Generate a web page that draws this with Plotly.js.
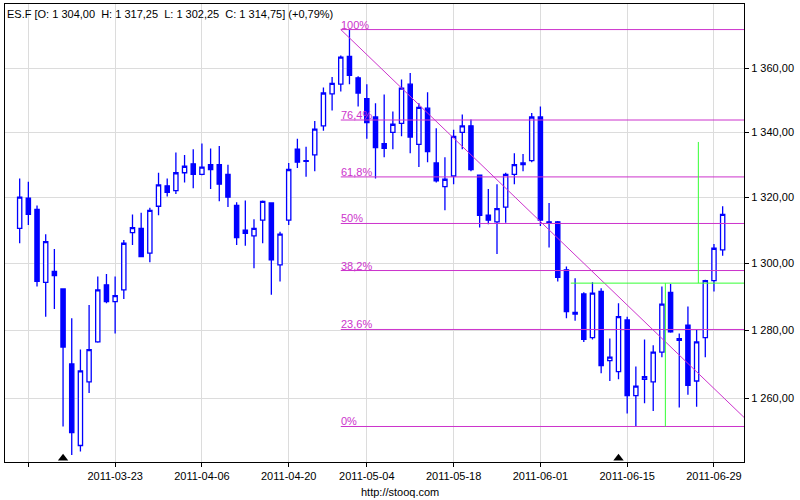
<!DOCTYPE html>
<html>
<head>
<meta charset="utf-8">
<script src="https://cdn.plot.ly/plotly-3.0.1.min.js"></script>
<style>html,body{margin:0;padding:0;background:#fff;}#chart{width:800px;height:500px;}</style>
</head>
<body>
<div id="chart"></div>
<script>
// ---- data ----
const dates = [
 '2011-03-08','2011-03-09','2011-03-10','2011-03-11','2011-03-14','2011-03-15','2011-03-16','2011-03-17','2011-03-18',
 '2011-03-21','2011-03-22','2011-03-23','2011-03-24','2011-03-25','2011-03-28','2011-03-29','2011-03-30','2011-03-31',
 '2011-04-01','2011-04-04','2011-04-05','2011-04-06','2011-04-07','2011-04-08','2011-04-11','2011-04-12','2011-04-13',
 '2011-04-14','2011-04-15','2011-04-18','2011-04-19','2011-04-20','2011-04-21','2011-04-25','2011-04-26','2011-04-27',
 '2011-04-28','2011-04-29','2011-05-02','2011-05-03','2011-05-04','2011-05-05','2011-05-06','2011-05-09','2011-05-10',
 '2011-05-11','2011-05-12','2011-05-13','2011-05-16','2011-05-17','2011-05-18','2011-05-19','2011-05-20','2011-05-23',
 '2011-05-24','2011-05-25','2011-05-26','2011-05-27','2011-05-30','2011-05-31','2011-06-01','2011-06-02','2011-06-03',
 '2011-06-06','2011-06-07','2011-06-08','2011-06-09','2011-06-10','2011-06-13','2011-06-14','2011-06-15','2011-06-16',
 '2011-06-17','2011-06-20','2011-06-21','2011-06-22','2011-06-23','2011-06-24','2011-06-27','2011-06-28','2011-06-29',
 '2011-06-30'];
const open = [1310.5,1319.75,1316.25,1294.25,1297.5,1292.25,1270.0,1246.25,1264.75,
 1276.5,1293.5,1288.5,1292.0,1309.25,1310.5,1303.0,1317.25,1323.5,
 1322.0,1327.5,1330.25,1327.0,1330.0,1330.0,1327.0,1317.5,1310.0,
 1308.25,1313.0,1318.25,1299.5,1313.0,1334.75,1331.0,1333.0,1342.0,
 1352.0,1355.0,1363.75,1357.0,1350.5,1344.75,1336.5,1340.0,1342.75,
 1355.0,1336.25,1347.5,1330.5,1323.25,1326.5,1340.0,1342.0,1326.75,
 1314.5,1312.5,1317.0,1327.0,1330.0,1331.25,1344.75,1312.5,1312.5,
 1298.0,1285.25,1290.75,1277.75,1291.5,1271.0,1267.75,1283.0,1260.75,
 1265.5,1264.75,1273.5,1291.25,1277.5,1281.5,1265.0,1277.75,1294.75,
 1304.0];
const high = [1325.75,1324.75,1317.5,1308.75,1304.25,1292.5,1283.5,1274.25,1287.5,
 1296.0,1296.75,1296.0,1307.0,1314.75,1315.25,1316.75,1327.5,1325.75,
 1333.75,1333.0,1334.75,1336.5,1335.0,1335.75,1330.0,1318.5,1319.0,
 1313.25,1319.0,1318.5,1309.5,1330.5,1338.0,1335.5,1343.5,1354.0,
 1357.25,1364.0,1372.25,1357.5,1355.0,1349.0,1351.75,1346.5,1356.5,
 1358.5,1349.0,1352.5,1341.25,1332.25,1340.75,1345.5,1344.0,1327.0,
 1322.5,1324.0,1327.5,1333.5,1333.25,1346.0,1348.0,1318.25,1312.75,
 1299.0,1295.5,1291.25,1294.25,1292.5,1277.5,1288.0,1284.0,1269.25,
 1277.25,1275.5,1293.0,1293.75,1279.0,1287.0,1280.0,1295.0,1305.75,
 1317.25];
const low = [1306.0,1311.5,1293.0,1284.0,1286.25,1251.75,1243.5,1244.5,1261.5,
 1276.25,1288.0,1279.0,1289.25,1305.5,1301.75,1300.25,1314.5,1320.25,
 1321.0,1324.5,1322.75,1326.75,1322.5,1318.75,1317.0,1305.5,1305.25,
 1298.5,1306.0,1290.5,1294.5,1311.5,1329.0,1326.25,1328.0,1340.5,
 1346.75,1352.75,1355.0,1348.0,1338.0,1325.75,1332.25,1334.75,1338.75,
 1333.5,1329.25,1330.75,1324.5,1316.0,1324.0,1334.75,1328.0,1310.75,
 1311.75,1302.75,1312.25,1324.0,1328.0,1330.75,1311.25,1304.75,1294.5,
 1283.5,1282.75,1276.5,1277.25,1267.25,1265.0,1265.5,1255.5,1251.75,
 1258.5,1256.25,1272.0,1279.25,1257.25,1261.0,1257.5,1272.0,1291.5,
 1302.25];
const close = [1320.0,1314.75,1294.5,1306.5,1296.25,1275.0,1250.0,1268.0,1274.25,
 1292.0,1288.5,1290.25,1306.0,1310.75,1302.0,1316.0,1323.75,1321.5,
 1327.5,1329.5,1327.0,1329.25,1328.5,1324.0,1320.0,1307.75,1309.0,
 1310.5,1318.75,1301.0,1308.75,1328.5,1330.75,1331.25,1341.0,1352.25,
 1355.25,1363.5,1357.75,1352.25,1343.0,1335.25,1335.0,1342.5,1353.75,
 1338.5,1347.75,1334.0,1325.0,1325.5,1338.75,1342.0,1328.5,1314.5,
 1313.0,1316.5,1327.0,1330.0,1330.5,1344.75,1313.0,1312.25,1295.75,
 1285.5,1284.75,1277.25,1291.0,1269.5,1272.0,1284.0,1260.75,1263.5,
 1266.25,1273.5,1287.75,1279.5,1277.0,1263.75,1276.5,1294.75,1304.5,
 1314.75];

const xTickDates = ['2011-03-09','2011-03-23','2011-04-06','2011-04-20','2011-05-04','2011-05-18','2011-06-01','2011-06-15','2011-06-29'];
const xTickText  = ['','2011-03-23','2011-04-06','2011-04-20','2011-05-04','2011-05-18','2011-06-01','2011-06-15','2011-06-29'];
const yTickVals  = [1260,1280,1300,1320,1340,1360];
const yTickText  = ['1 260,00','1 280,00','1 300,00','1 320,00','1 340,00','1 360,00'];

// Fibonacci retracement tool
const fibHigh = 1372.25;
const fibLow = 1251.75;
const fibStartDate = '2011-04-29';
const fibRatios = [1, 0.764, 0.618, 0.5, 0.382, 0.236, 0];
const fibLabels = ['100%','76,4%','61,8%','50%','38,2%','23,6%','0%'];
const trendEndPrice = 1254.4;

// green measuring tool (bar-index positions, prices)
const greenLevel = 1294.0;
const greenTop = 1337.0;
const greenX = [63.5, 74.4, 78.2];

// markers at the bottom
const markerDates = ['2011-03-15','2011-06-14'];
const markerPrice = 1242.6;

// ---- build ----
const idx = d => dates.indexOf(d);
const xs = dates.map((d, i) => i);
const xMin = -1.69, xMax = 83.46;
const BLUE = '#0000ff', MAG = '#cc33cc', GREEN = '#33ff33';
const FONT = 'Liberation Sans, Arial, sans-serif';

const traces = [];
traces.push({
  type: 'candlestick', x: xs, open: open, high: high, low: low, close: close,
  increasing: {line: {color: BLUE, width: 1.3}, fillcolor: '#ffffff'},
  decreasing: {line: {color: BLUE, width: 1.3}, fillcolor: BLUE},
  whiskerwidth: 0, hoverinfo: 'none', showlegend: false
});

const fs = idx(fibStartDate);
const annotations = [];
fibRatios.forEach((r, k) => {
  const lvl = fibLow + r * (fibHigh - fibLow);
  traces.push({type: 'scatter', mode: 'lines', x: [fs, xMax], y: [lvl, lvl],
    line: {color: MAG, width: 1}, hoverinfo: 'none', showlegend: false, cliponaxis: true});
  annotations.push({x: fs, y: Math.log10(lvl), xref: 'x', yref: 'y', text: fibLabels[k],
    showarrow: false, xanchor: 'left', yanchor: 'bottom', yshift: -3, xshift: -2,
    font: {family: FONT, size: 11, color: MAG}});
});
traces.push({type: 'scatter', mode: 'lines', x: [fs, xMax], y: [fibHigh, trendEndPrice],
  line: {color: MAG, width: 1}, hoverinfo: 'none', showlegend: false});

// green tool
traces.push({type: 'scatter', mode: 'lines', x: [greenX[0], xMax], y: [greenLevel, greenLevel],
  line: {color: GREEN, width: 1}, hoverinfo: 'none', showlegend: false});
traces.push({type: 'scatter', mode: 'lines', x: [greenX[1], greenX[1]], y: [fibLow, greenLevel],
  line: {color: GREEN, width: 1}, hoverinfo: 'none', showlegend: false});
traces.push({type: 'scatter', mode: 'lines', x: [greenX[2], greenX[2]], y: [greenLevel, greenTop],
  line: {color: GREEN, width: 1}, hoverinfo: 'none', showlegend: false});

traces.push({type: 'scatter', mode: 'markers', x: markerDates.map(idx), y: markerDates.map(() => markerPrice),
  marker: {symbol: 'triangle-up', size: 9, color: '#000000'}, hoverinfo: 'none', showlegend: false, cliponaxis: false});

const fmt = v => {
  const s = v.toFixed(2).replace('.', ',');
  const [ip, dp] = s.split(',');
  return ip.replace(/\B(?=(\d{3})+(?!\d))/g, ' ') + ',' + dp;
};
const n = dates.length - 1;
const chg = ((close[n] - close[n-1]) / close[n-1] * 100);
const S = '\u00a0';
const titleText = 'ES.F [O:' + S + fmt(open[n]) + S + S + 'H:' + S + fmt(high[n]) + S + S + 'L:' + S + fmt(low[n]) +
  S + S + 'C:' + S + fmt(close[n]) + ']' + S + '(+' + chg.toFixed(2).replace('.', ',') + '%)';

// plot area spans x 5..744, y 4..462 in pixels
annotations.push({x: (400 - 5) / 739, y: (462 - 492) / 458, xref: 'paper', yref: 'paper', text: 'http://stooq.com', showarrow: false,
  xanchor: 'center', yanchor: 'middle', font: {family: FONT, size: 11, color: '#000000'}});

const axisCommon = {
  showgrid: true, gridcolor: '#dcdcdc', gridwidth: 1, zeroline: false,
  showline: true, mirror: true, linecolor: '#000000', linewidth: 1,
  ticks: 'outside', ticklen: 4, tickcolor: '#000000',
  tickfont: {family: FONT, size: 11, color: '#000000'}
};

const layout = {
  width: 800, height: 500,
  margin: {l: 5, r: 56, t: 4, b: 38, pad: 0},
  paper_bgcolor: '#ffffff', plot_bgcolor: '#ffffff',
  showlegend: false,
  title: {text: titleText, x: 7/800, xref: 'container', xanchor: 'left', y: 1 - 14/500, yref: 'container', yanchor: 'middle',
    font: {family: FONT, size: 11, color: '#000000'}},
  xaxis: Object.assign({}, axisCommon, {
    type: 'linear', range: [xMin, xMax], tickmode: 'array',
    tickvals: xTickDates.map(idx), ticktext: xTickText,
    rangeslider: {visible: false}
  }),
  yaxis: Object.assign({}, axisCommon, {
    type: 'log', side: 'right', range: [Math.log10(1241.5), Math.log10(1380.4)],
    tickmode: 'array', tickvals: yTickVals, ticktext: yTickText
  }),
  annotations: annotations
};

Plotly.newPlot('chart', traces, layout, {staticPlot: true, displayModeBar: false});
</script>
</body>
</html>
